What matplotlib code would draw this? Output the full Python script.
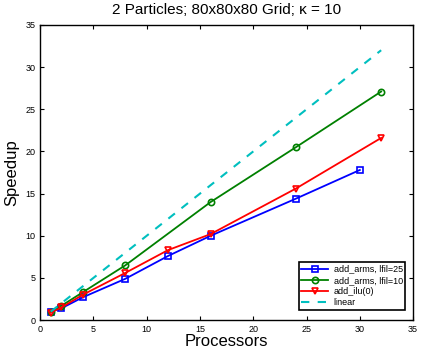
import matplotlib
matplotlib.use('Agg')
import matplotlib.pyplot as plt

plt.rcParams['font.family'] = ['Liberation Sans', 'DejaVu Sans']

# data
p_blue = [1, 2, 4, 8, 12, 16, 24, 30]
s_blue = [1.0, 1.4, 2.7, 4.9, 7.6, 10.0, 14.4, 17.8]
p_green = [1, 2, 4, 8, 16, 24, 32]
s_green = [1.0, 1.7, 3.3, 6.5, 14.0, 20.5, 27.1]
p_red = [1, 2, 4, 8, 12, 16, 24, 32]
s_red = [0.9, 1.5, 3.0, 5.6, 8.3, 10.2, 15.6, 21.6]
p_lin = [1, 32]
s_lin = [1, 32]

fig = plt.figure(figsize=(4.22, 3.51), dpi=100)
ax = fig.add_axes([0.095, 0.088, 0.884, 0.841])

ax.plot(p_blue, s_blue, '-s', color='#0000ff', lw=1.3, ms=4, mfc='none', mew=1.2,
        label='add_arms, lfil=25')
ax.plot(p_green, s_green, '-o', color='#008000', lw=1.3, ms=4.5, mfc='none', mew=1.2,
        label='add_arms, lfil=10')
ax.plot(p_red, s_red, '-v', color='#ff0000', lw=1.3, ms=5, mfc='none', mew=1.2,
        label='add_ilu(0)')
ax.plot(p_lin, s_lin, '--', color='#00bfbf', lw=1.5, dashes=(4, 4), label='linear')

ax.set_xlim(0, 35)
ax.set_ylim(0, 35)
ax.set_xticks(range(0, 36, 5))
ax.set_yticks(range(0, 36, 5))
ax.tick_params(direction='in', top=True, right=True, labelsize=6.5, length=3)
for s in ax.spines.values():
    s.set_linewidth(1.0)
ax.set_xlabel('Processors', fontsize=12, labelpad=0)
ax.set_ylabel('Speedup', fontsize=12, labelpad=4)
ax.set_title('2 Particles; 80x80x80 Grid; \u03ba = 10', fontsize=11, pad=8)

leg = ax.legend(loc='lower right', fontsize=6.5, fancybox=False, edgecolor='black',
                framealpha=1, handlelength=3.0, handletextpad=0.6, borderpad=0.25,
                labelspacing=0.25, bbox_to_anchor=(0.99, 0.02))
leg.get_frame().set_linewidth(1.2)

fig.savefig('out.png', dpi=100)
